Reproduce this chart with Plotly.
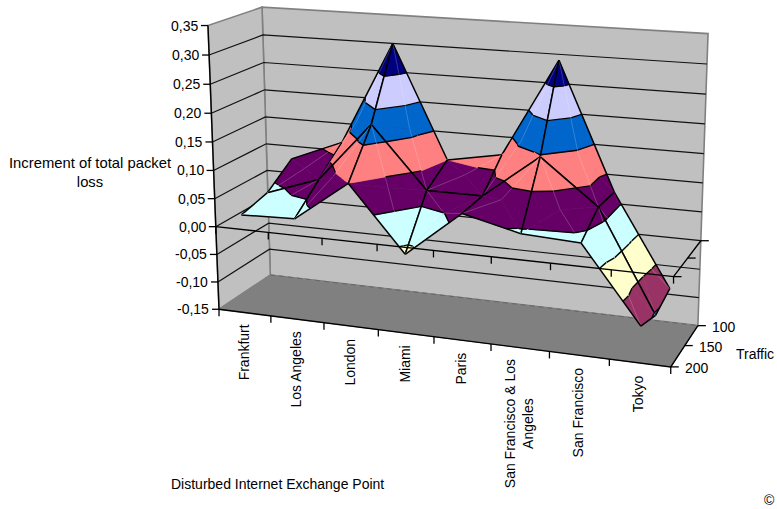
import numpy as np
import plotly.graph_objects as go

# Packet-loss surface: disturbed exchange point against traffic level
categories = ["Frankfurt", "Los Angeles", "London", "Miami", "Paris",
              "San Francisco &amp; Los<br>Angeles", "San Francisco", "Tokyo"]
traffic = [100, 150, 200]
loss_100 = [0.076, 0.115, 0.300, 0.100, 0.118, 0.290, 0.070, -0.090]
loss_150 = [0.039, 0.072, 0.178, 0.071, 0.071, 0.147, 0.071, -0.104]
loss_200 = [0.026, 0.029, 0.100, -0.012, 0.068, 0.044, 0.039, -0.088]
z_ticks = [-0.15, -0.10, -0.05, 0.00, 0.05, 0.10, 0.15, 0.20, 0.25, 0.30, 0.35]
z_tick_labels = ["-0,15", "-0,10", "-0,05", "0,00", "0,05", "0,10", "0,15", "0,20", "0,25", "0,30", "0,35"]
band_colors = ["#9999FF", "#993366", "#FFFFCC", "#CCFFFF", "#660066",
               "#FF8080", "#0066CC", "#CCCCFF", "#000080", "#000080"]

Z_MIN, Z_MAX, BAND = -0.15, 0.35, 0.05
loss = np.array([loss_100, loss_150, loss_200])
n_cat = len(categories)

# Camera calibration: box corners (category unit, series unit, value) -> page position
anchors = [
    ((0, 0, -0.15), (270, 275)), ((8, 0, -0.15), (698, 325)),
    ((0, 1, -0.15), (219, 309)), ((8, 1, -0.15), (671, 367)),
    ((0, 1, 0.35), (208, 25)), ((0, 0, 0.35), (262, 7.5)),
    ((8, 0, 0.35), (708, 33.5)), ((0, 1, 0.0), (216, 227)),
    ((0, 0, 0.0), (268, 197)), ((8, 1, 0.0), (673, 277)),
    ((8, 0, 0.0), (701, 241)),
]


def solve_camera(pairs):
    rows = []
    for (a, b, c), (u, v) in pairs:
        h = [a / 8, b, (c - Z_MIN) / (Z_MAX - Z_MIN), 1]
        u, v = u / 500, v / 500
        rows.append(h + [0, 0, 0, 0] + [-u * t for t in h])
        rows.append([0, 0, 0, 0] + h + [-v * t for t in h])
    m = np.linalg.svd(np.array(rows))[2][-1].reshape(3, 4)
    if m[2, 3] < 0:
        m = -m
    return m


CAM = solve_camera(anchors)


def homog(p):
    return np.array([p[0] / 8, p[1], (p[2] - Z_MIN) / (Z_MAX - Z_MIN), 1.0])


def proj(p):
    r = CAM @ homog(p)
    return r[0] / r[2] * 500, r[1] / r[2] * 500


def depth(p):
    return (CAM @ homog(p))[2]


fig = go.Figure()


def poly(pts, fill=None, color="black", width=1.0, dash=None):
    xy = [proj(p) for p in pts]
    xs = [q[0] for q in xy]
    ys = [q[1] for q in xy]
    kw = dict(fill="toself", fillcolor=fill) if fill else {}
    fig.add_trace(go.Scatter(x=xs, y=ys, mode="lines", hoverinfo="skip", showlegend=False,
                             line=dict(color=color, width=width, dash=dash), **kw))


def seg(a, b, color="black", width=1.0):
    poly([a, b], color=color, width=width)


def pixel_tick(p, dx, dy, width=1.3):
    x, y = proj(p)
    fig.add_trace(go.Scatter(x=[x, x + dx], y=[y, y + dy], mode="lines", hoverinfo="skip",
                             showlegend=False, line=dict(color="black", width=width)))


# Walls and floor
poly([(0, 0, Z_MIN), (8, 0, Z_MIN), (8, 0, Z_MAX), (0, 0, Z_MAX), (0, 0, Z_MIN)],
     fill="#C0C0C0", color="#808080", width=1.6)
poly([(0, 1, Z_MIN), (0, 0, Z_MIN), (0, 0, Z_MAX), (0, 1, Z_MAX), (0, 1, Z_MIN)],
     fill="#C0C0C0", color="#808080", width=1.6)
poly([(0, 1, Z_MIN), (8, 1, Z_MIN), (8, 0, Z_MIN), (0, 0, Z_MIN), (0, 1, Z_MIN)],
     fill="#808080", color="#808080", width=1)
poly([(0, 0, Z_MIN), (8, 0, Z_MIN)], color="#666666", width=1, dash="5px,4px")

# Value gridlines on both walls
for z in z_ticks[1:-1]:
    poly([(0, 1, z), (0, 0, z), (8, 0, z)], color="#111111", width=1.2)


def clip(tri, low, high):
    """Part of a triangle lying between two value levels."""
    def cut(pts, keep, level):
        out = []
        for i, a in enumerate(pts):
            b = pts[(i + 1) % len(pts)]
            ka, kb = keep(a[2]), keep(b[2])
            if ka:
                out.append(a)
            if ka != kb:
                t = (level - a[2]) / (b[2] - a[2])
                out.append(tuple(a[k] + t * (b[k] - a[k]) for k in range(3)))
        return out
    pts = cut(list(tri), lambda v: v >= low, low)
    if pts:
        pts = cut(pts, lambda v: v <= high, high)
    return pts


def contour(tri, level):
    out = []
    for i in range(3):
        a, b = tri[i], tri[(i + 1) % 3]
        if (a[2] - level) * (b[2] - level) < 0:
            t = (level - a[2]) / (b[2] - a[2])
            out.append(tuple(a[k] + t * (b[k] - a[k]) for k in range(3)))
    return out


# Each grid cell is split around its centre so value bands bend along the cell
triangles = []
for r in range(2):
    for c in range(n_cat - 1):
        corners = [(c + .5, r / 2, loss[r, c]), (c + 1.5, r / 2, loss[r, c + 1]),
                   (c + 1.5, (r + 1) / 2, loss[r + 1, c + 1]), (c + .5, (r + 1) / 2, loss[r + 1, c])]
        centre = tuple(np.mean(corners, axis=0))
        top = int(np.argmax([p[2] for p in corners]))
        for i in range(4):
            a, b = corners[i], corners[(i + 1) % 4]
            faint = [corners[j] for j in (i, (i + 1) % 4) if j % 2 == top % 2]
            triangles.append(((a, b, centre), (a, b), faint, centre))
triangles.sort(key=lambda t: -depth(tuple(np.mean(t[0], axis=0))))

for tri, edge, faint, centre in triangles:
    for k, col in enumerate(band_colors):
        low = Z_MIN + k * BAND
        part = clip(tri, low, low + BAND)
        if len(part) >= 3:
            poly(part + [part[0]], fill=col, color=col, width=0.6)
    for p in faint:
        seg(p, centre, color="rgba(255,255,255,0.2)", width=0.7)
    for k in range(1, len(band_colors)):
        s = contour(tri, Z_MIN + k * BAND)
        if len(s) == 2:
            seg(s[0], s[1], width=1.4)
    seg(edge[0], edge[1], width=1.5)

# Axis frame at the floor
poly([(0, 0.999, Z_MAX), (0, 1, Z_MIN), (8, 1, Z_MIN), (8, 0, Z_MIN)], color="black", width=1.4)
for i in range(n_cat + 1):
    pixel_tick((i, 1, Z_MIN), 0, 7)
for i in range(3):
    pixel_tick((8, i / 2, Z_MIN), 8, 0)
for z in z_ticks:
    pixel_tick((0, 1, z), -7, 0)

# Axis frame crossing at zero, drawn in front of the surface
poly([(0, 1, 0), (8, 1, 0), (8, 0, 0)], color="black", width=1.4)
for i in range(n_cat + 1):
    pixel_tick((i, 1, 0), 0, 7)
for i in range(3):
    pixel_tick((8, i / 2, 0), 8, 0)

ann = []


def text(x, y, s, **kw):
    ann.append(dict(x=x, y=y, text=s, xref="x", yref="y", showarrow=False, **kw))


for z, lab in zip(z_ticks, z_tick_labels):
    x, y = proj((0, 1, z))
    text(x - 8, y, lab, xanchor="right", yanchor="middle")
for i, cat in enumerate(categories):
    x, y = proj((i + .5, 1, Z_MIN))
    text(x - 1, y + 10, cat, textangle=-90, xanchor="center", yanchor="top")
for i, t in enumerate(traffic):
    x, y = proj((8, i / 2, Z_MIN))
    text(x + 12, y + 1, str(t), xanchor="left", yanchor="middle")
text(90, 172, "Increment of total packet<br>loss", xanchor="center", yanchor="middle",
     font=dict(size=14.8))
text(277, 484, "Disturbed Internet Exchange Point", xanchor="center", yanchor="middle")
text(734, 354, "Traffic", xanchor="left", yanchor="middle")
text(769, 500, "©", xanchor="center", yanchor="middle")

fig.update_layout(
    width=777, height=509, margin=dict(l=0, r=0, t=0, b=0), autosize=False,
    paper_bgcolor="white", plot_bgcolor="white",
    font=dict(family="Liberation Sans, Arial, sans-serif", size=14, color="black"),
    xaxis=dict(range=[0, 777], visible=False, fixedrange=True),
    yaxis=dict(range=[509, 0], visible=False, fixedrange=True),
    annotations=ann, showlegend=False,
)
fig.write_html("out.html", config=dict(displayModeBar=False))
